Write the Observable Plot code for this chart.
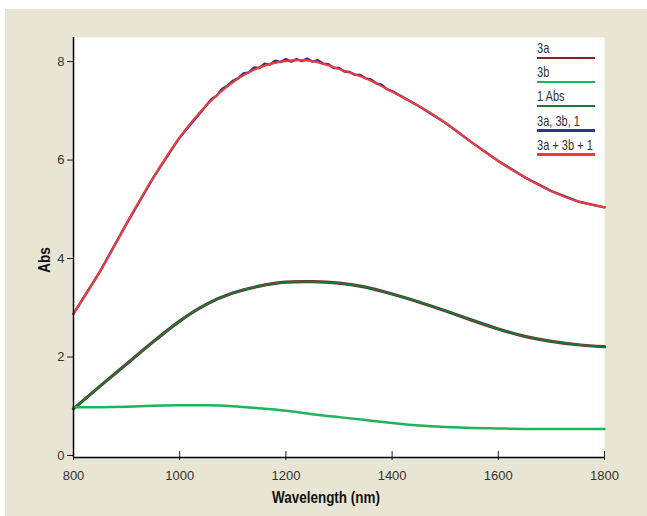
<!DOCTYPE html>
<html><head><meta charset="utf-8">
<script src="https://cdn.jsdelivr.net/npm/d3@7"></script>
<script src="https://cdn.jsdelivr.net/npm/@observablehq/plot@0.6"></script>
<style>
body{margin:0;background:#fff;width:647px;height:516px;overflow:hidden;position:relative;font-family:"Liberation Sans",Arial,sans-serif}
#panel{position:absolute;left:5px;top:9px;width:642px;height:507px;background:#e9e5d4}
#chart{position:absolute;left:0;top:0}
#legend{position:absolute;left:537px;top:40px;width:58px}
.item{height:24.2px}
.item span{font-size:14.5px;color:#333;display:block;line-height:13px;height:13px;padding-top:2px;white-space:nowrap;transform:scaleX(0.76);transform-origin:left center}
.item i{display:block;height:2.6px;margin-top:1.5px}
.xt{position:absolute;left:326px;top:489px;transform:translateX(-50%) scaleX(0.84);font-weight:bold;font-size:16px;color:#111;white-space:nowrap}
.yt{position:absolute;left:45px;top:260px;transform:translate(-50%,-50%) rotate(-90deg) scaleX(0.84);font-weight:bold;font-size:16px;color:#111}
</style></head>
<body>
<div id="panel"></div>
<div id="chart"></div>
<div id="legend"></div>
<div class="xt">Wavelength (nm)</div>
<div class="yt">Abs</div>
<script>
const wavelengths = [800,850,900,950,1000,1050,1100,1150,1200,1250,1300,1350,1400,1450,1500,1550,1600,1650,1700,1750,1800];
const abs3a  = [0.99,1.45,1.90,2.35,2.77,3.11,3.34,3.48,3.56,3.57,3.54,3.46,3.32,3.16,2.98,2.79,2.61,2.46,2.36,2.29,2.25];
const abs1   = [0.99,1.45,1.90,2.35,2.77,3.11,3.34,3.48,3.56,3.57,3.54,3.46,3.32,3.16,2.98,2.79,2.61,2.46,2.36,2.29,2.25];
const abs3b  = [1.02,1.02,1.03,1.05,1.06,1.06,1.04,1.00,0.95,0.88,0.82,0.76,0.70,0.65,0.62,0.60,0.59,0.58,0.58,0.58,0.58];
const absSum = [2.92,3.78,4.75,5.68,6.50,7.15,7.62,7.92,8.05,8.05,7.89,7.70,7.43,7.14,6.80,6.40,6.02,5.69,5.41,5.20,5.08];
const blueWavelengths = [800,850,900,950,1000,1050,1060,1070,1080,1090,1100,1110,1120,1130,1140,1150,1160,1170,1180,1190,1200,1210,1220,1230,1240,1250,1260,1270,1280,1290,1300,1310,1320,1330,1340,1350,1360,1370,1380,1390,1400,1450,1500,1550,1600,1650,1700,1750,1800];
const blueAbs = [2.92,3.78,4.75,5.68,6.50,7.15,7.28,7.35,7.49,7.55,7.65,7.70,7.80,7.82,7.92,7.91,8.00,7.98,8.06,8.03,8.09,8.04,8.09,8.05,8.10,8.04,8.07,8.00,7.99,7.91,7.91,7.84,7.83,7.77,7.77,7.70,7.68,7.60,7.57,7.48,7.44,7.14,6.80,6.40,6.02,5.69,5.41,5.20,5.08];
const xTicks = [800,1000,1200,1400,1600,1800];
const yTicks = [0,2,4,6,8];
const seriesNames = ["3a","3b","1 Abs","3a, 3b, 1","3a + 3b + 1"];
const seriesColors = ["#8b1d24","#1fb35c","#117a3d","#2b3592","#f23a3a"];

const rows = (xs, ys) => xs.map((x,i) => ({wl:x, abs:ys[i]}));
const font = '"Liberation Sans",Arial,sans-serif';

const chart = Plot.plot({
  width: 647, height: 516,
  marginLeft: 73, marginRight: 43, marginTop: 37, marginBottom: 59,
  style: {background: "transparent", fontFamily: font, fontSize: "13px", color: "#333"},
  x: {domain: [800,1800], ticks: xTicks},
  y: {domain: [0,8.53], ticks: yTicks},
  marks: [
    Plot.frame({fill: "white", stroke: null}),
    Plot.line(rows(wavelengths, abs3a), {x:"wl", y:"abs", stroke: seriesColors[0], strokeWidth: 3.2, curve: "natural"}),
    Plot.line(rows(wavelengths, abs1), {x:"wl", y:"abs", stroke: seriesColors[2], strokeWidth: 2, curve: "natural"}),
    Plot.line(rows(wavelengths, abs3b), {x:"wl", y:"abs", stroke: seriesColors[1], strokeWidth: 2.5, curve: "natural"}),
    Plot.line(rows(blueWavelengths, blueAbs), {x:"wl", y:"abs", stroke: seriesColors[3], strokeWidth: 2.4, curve: "linear"}),
    Plot.line(rows(wavelengths, absSum), {x:"wl", y:"abs", stroke: seriesColors[4], strokeWidth: 2.1, curve: "natural"}),
    Plot.axisY(yTicks, {tickSize: 6, tickPadding: 3, dy: -2, label: null, stroke: "#222", fill: "#333", fontSize: 13}),
    Plot.axisX(xTicks, {tickSize: 9, dy: -6, text: null, label: null, stroke: "#222"}),
    Plot.axisX(xTicks, {tickSize: 0, tickPadding: 13, label: null, fill: "#333", fontSize: 13, tickFormat: d => String(d)}),
    Plot.ruleX([800], {stroke: "#000", strokeWidth: 1.5}),
    Plot.ruleY([0], {stroke: "#000", strokeWidth: 1.5})
  ]
});
document.getElementById("chart").appendChild(chart);

const legend = document.getElementById("legend");
seriesNames.forEach((n,i) => {
  const d = document.createElement("div");
  d.className = "item";
  d.innerHTML = `<span>${n}</span><i style="background:${seriesColors[i]}"></i>`;
  legend.appendChild(d);
});
</script>
</body></html>
